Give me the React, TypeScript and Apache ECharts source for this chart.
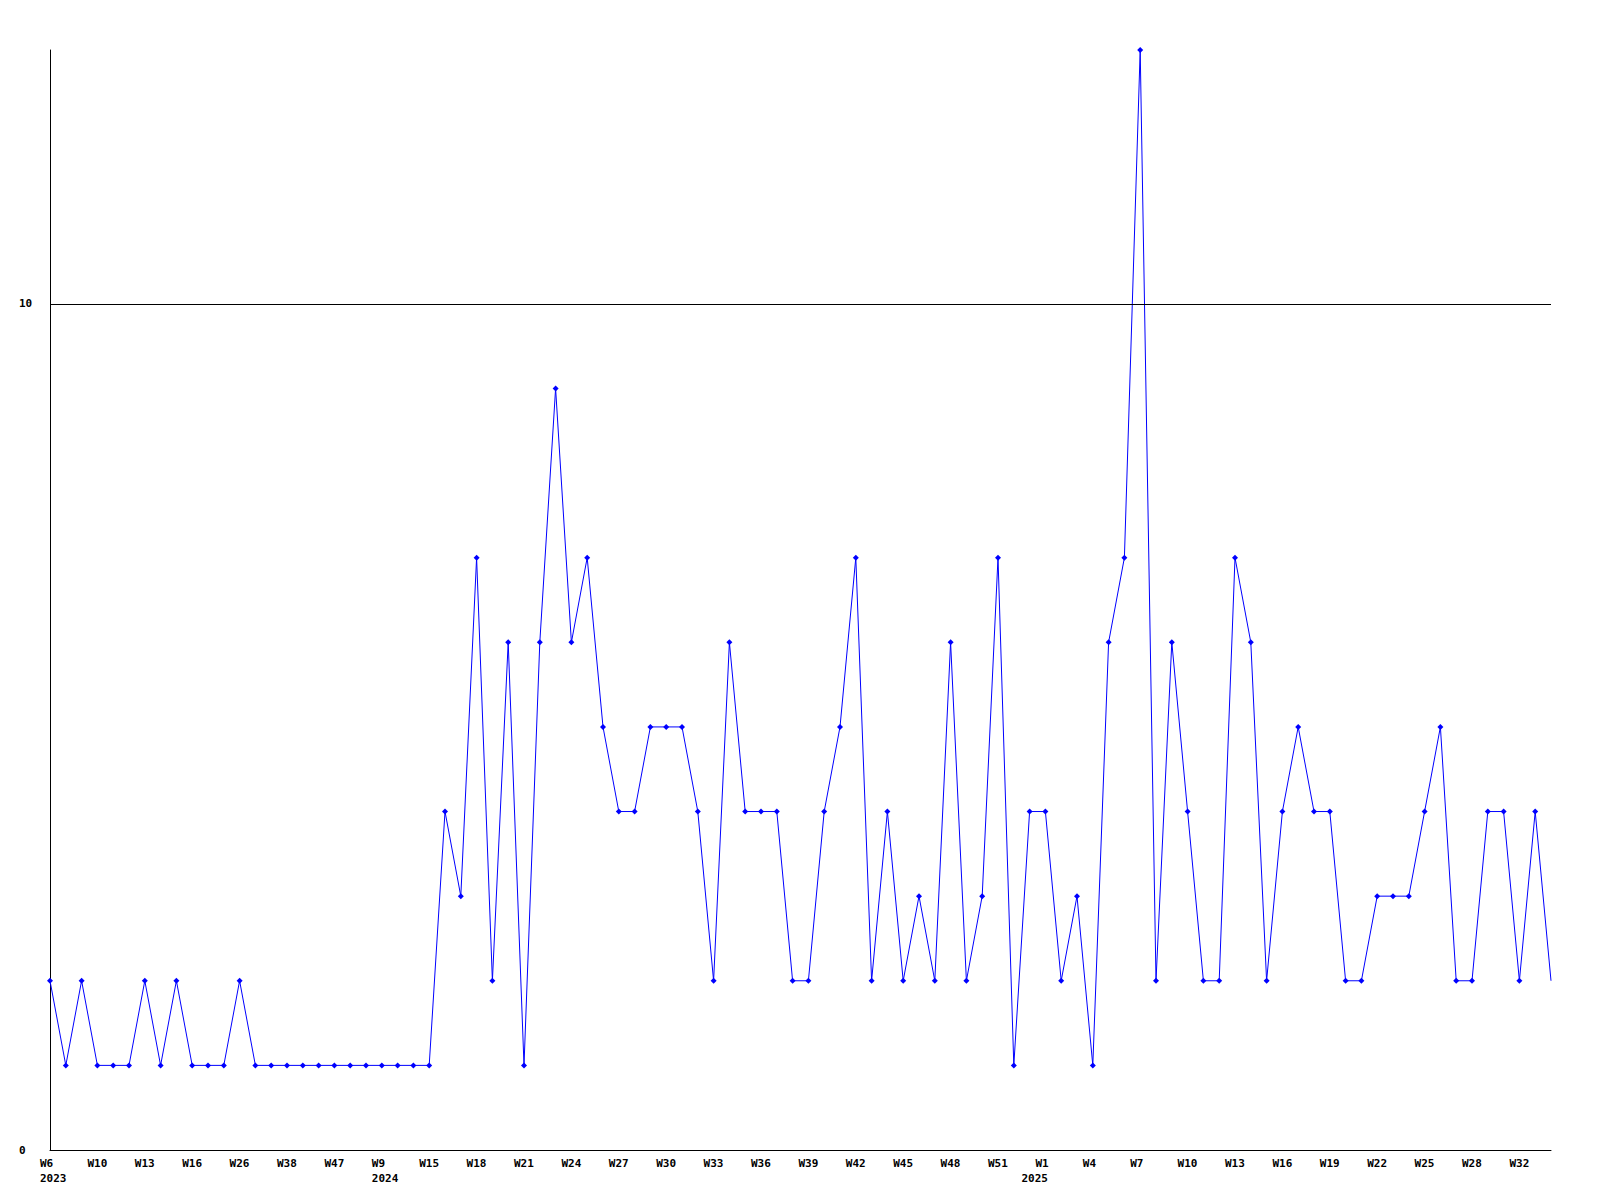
import React, { useEffect, useRef } from "react";
import * as echarts from "echarts";

// Week categories ("year-week"), one per plotted point
const categories: string[] = [
  "2023-W6", "2023-W7", "2023-W8", "2023-W10", "2023-W11", "2023-W12", "2023-W13", "2023-W14",
  "2023-W15", "2023-W16", "2023-W18", "2023-W22", "2023-W26", "2023-W30", "2023-W34", "2023-W38",
  "2023-W41", "2023-W44", "2023-W47", "2023-W50", "2023-W52",
  "2024-W9", "2024-W11", "2024-W13", "2024-W15", "2024-W16", "2024-W17", "2024-W18", "2024-W19",
  "2024-W20", "2024-W21", "2024-W22", "2024-W23", "2024-W24", "2024-W25", "2024-W26", "2024-W27",
  "2024-W28", "2024-W29", "2024-W30", "2024-W31", "2024-W32", "2024-W33", "2024-W34", "2024-W35",
  "2024-W36", "2024-W37", "2024-W38", "2024-W39", "2024-W40", "2024-W41", "2024-W42", "2024-W43",
  "2024-W44", "2024-W45", "2024-W46", "2024-W47", "2024-W48", "2024-W49", "2024-W50", "2024-W51",
  "2024-W52", "2024-W53",
  "2025-W1", "2025-W2", "2025-W3", "2025-W4", "2025-W5", "2025-W6", "2025-W7", "2025-W8",
  "2025-W9", "2025-W10", "2025-W11", "2025-W12", "2025-W13", "2025-W14", "2025-W15", "2025-W16",
  "2025-W17", "2025-W18", "2025-W19", "2025-W20", "2025-W21", "2025-W22", "2025-W23", "2025-W24",
  "2025-W25", "2025-W26", "2025-W27", "2025-W28", "2025-W29", "2025-W30", "2025-W32", "2025-W33",
  "2025-W34",
];

// Weekly counts
const counts: number[] = [
  2, 1, 2, 1, 1, 1, 2, 1, 2, 1, 1, 1, 2,
  1, 1, 1, 1, 1, 1, 1, 1, 1, 1, 1, 1,
  4, 3, 7, 2, 6, 1, 6, 9, 6, 7,
  5, 4, 4, 5, 5, 5, 4, 2, 6, 4,
  4, 4, 2, 2, 4, 5, 7, 2, 4, 2,
  3, 2, 6, 2, 3, 7, 1, 4, 4, 2,
  3, 1, 6, 7, 13, 2, 6, 4, 2, 2,
  7, 6, 2, 4, 5, 4, 4, 2, 2, 3,
  3, 3, 4, 5, 2, 2, 4, 4, 2, 4,
  2,
];

const yTicks: number[] = [0, 10];
const yMax = 13;
// year captions that the reference draws ending at the week label's right edge
const rightAlignedYears: string[] = ["2025"];

const FONT = "'DejaVu Sans Mono', 'Liberation Mono', monospace";

export default function App() {
  const ref = useRef<HTMLDivElement>(null);

  useEffect(() => {
    if (!ref.current) return;
    const chart = echarts.init(ref.current, undefined, { renderer: "svg" });

    const yearStart = (index: number): string | null => {
      const y = categories[index].split("-")[0];
      const prev = index >= 3 ? categories[index - 3].split("-")[0] : null;
      return y !== prev ? y : null;
    };

    const weekFormatter = (value: string, index: number) => {
      const w = value.split("-")[1];
      const y = yearStart(index);
      return y && !rightAlignedYears.includes(y) ? `${w}\n${y}` : w;
    };
    const shiftedYearFormatter = (_value: string, index: number) => {
      const y = yearStart(index);
      return y && rightAlignedYears.includes(y) ? y : "";
    };

    const lastIdx = counts.length - 1;
    const seriesData = counts.map((v, i) =>
      i === lastIdx ? { value: v, symbol: "none" } : v
    );

    const labelStyle = {
      show: true,
      interval: 2,
      align: "left",
      color: "#000000",
      fontFamily: FONT,
      fontWeight: "bold",
      fontSize: 11,
      lineHeight: 15,
    };

    chart.setOption({
      animation: false,
      backgroundColor: "#ffffff",
      grid: [
        { left: 50, right: 49, top: 50, bottom: 50, containLabel: false },
        { left: 40, right: 59, top: 50, bottom: 50, containLabel: false },
        { left: 26, right: 73, top: 50, bottom: 50, containLabel: false },
      ],
      xAxis: [
        {
          type: "category",
          gridIndex: 0,
          data: categories,
          boundaryGap: false,
          axisLine: { show: true, lineStyle: { color: "#000000", width: 1 } },
          axisTick: { show: false },
          axisLabel: { show: false },
          splitLine: { show: false },
        },
        {
          type: "category",
          gridIndex: 1,
          data: categories,
          boundaryGap: false,
          axisLine: { show: false },
          axisTick: { show: false },
          splitLine: { show: false },
          axisLabel: { ...labelStyle, margin: 6, formatter: weekFormatter },
        },
        {
          type: "category",
          gridIndex: 2,
          data: categories,
          boundaryGap: false,
          axisLine: { show: false },
          axisTick: { show: false },
          splitLine: { show: false },
          axisLabel: { ...labelStyle, margin: 21, formatter: shiftedYearFormatter },
        },
      ],
      yAxis: [
        {
          type: "value",
          gridIndex: 0,
          min: yTicks[0],
          max: yMax,
          interval: yTicks[1] - yTicks[0],
          axisLine: { show: true, lineStyle: { color: "#000000", width: 1 } },
          axisTick: { show: false },
          splitLine: { show: false },
          axisLabel: {
            show: true,
            align: "left",
            margin: 31,
            showMaxLabel: false,
            color: "#000000",
            fontFamily: FONT,
            fontWeight: "bold",
            fontSize: 11,
            formatter: (v: number) => (yTicks.includes(v) ? String(v) : ""),
          },
        },
        { type: "value", gridIndex: 1, show: false, min: 0, max: yMax },
        { type: "value", gridIndex: 2, show: false, min: 0, max: yMax },
      ],
      series: [
        {
          type: "line",
          xAxisIndex: 0,
          yAxisIndex: 0,
          data: seriesData,
          lineStyle: { color: "#0000ff", width: 1 },
          itemStyle: { color: "#0000ff" },
          symbol: "diamond",
          symbolSize: 6,
          showSymbol: true,
          markLine: {
            silent: true,
            symbol: ["none", "none"],
            label: { show: false },
            lineStyle: { color: "#000000", width: 1, type: "solid" },
            data: [{ yAxis: yTicks[1] }],
          },
        },
      ],
    });

    return () => chart.dispose();
  }, []);

  return (
    <div
      ref={ref}
      style={{
        position: "absolute",
        left: 0,
        top: 0,
        width: 1600,
        height: 1200,
        background: "#ffffff",
      }}
    />
  );
}
